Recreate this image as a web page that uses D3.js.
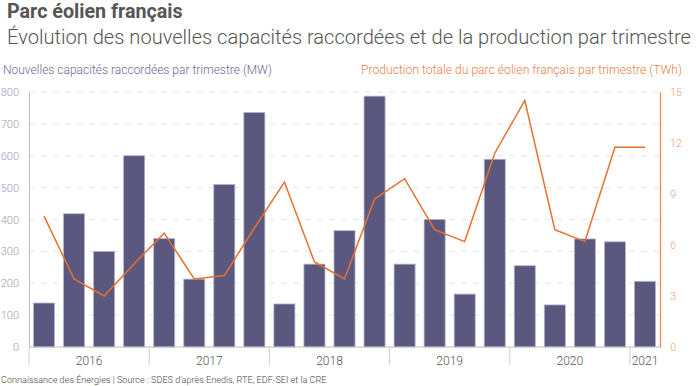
<!DOCTYPE html>
<html><head><meta charset="utf-8">
<script src="https://cdn.jsdelivr.net/npm/d3@7/dist/d3.min.js"></script>
<style>
body{margin:0;background:#fff;}
svg{display:block;font-family:Roboto,"Noto Sans",sans-serif;}
</style></head>
<body><svg id="c" width="700" height="386"></svg>
<script>
const quarters = ["2016T1","2016T2","2016T3","2016T4","2017T1","2017T2","2017T3","2017T4","2018T1","2018T2","2018T3","2018T4","2019T1","2019T2","2019T3","2019T4","2020T1","2020T2","2020T3","2020T4","2021T1"];
const capacity = [138,418,300,600,340,213,510,736,135,260,365,787,260,400,166,589,255,132,339,330,206];
const production = [7.7,4.0,3.0,4.9,6.7,4.0,4.2,7.0,9.7,5.0,4.0,8.7,9.9,6.9,6.2,11.4,14.5,6.9,6.2,11.75,11.75];
const years = ["2016","2017","2018","2019","2020","2021"];
const leftTicks = [0,100,200,300,400,500,600,700,800];
const rightTicks = [0,3,6,9,12,15];

const svg = d3.select("#c");
const m = {l:29, r:40, t:92, b:39};
const W = 700, H = 386;
const x = d3.scaleBand().domain(quarters).range([m.l, W-m.r]).paddingInner(0.3).paddingOuter(0.15);
const yL = d3.scaleLinear().domain([0,800]).range([H-m.b, m.t]);
const yR = d3.scaleLinear().domain([0,15]).range([H-m.b, m.t]);

// titles
svg.append("text").attr("x",7).attr("y",18).attr("font-size",19.7).attr("font-weight",700).attr("fill","#555").text("Parc éolien français");
svg.append("text").attr("x",7).attr("y",44).attr("font-size",20.1).attr("font-weight",300).attr("fill","#555").text("Évolution des nouvelles capacités raccordées et de la production par trimestre");
svg.append("text").attr("x",3).attr("y",74).attr("font-size",12).attr("font-weight",300).attr("fill","#6d6a92").text("Nouvelles capacités raccordées par trimestre (MW)");
svg.append("text").attr("x",682).attr("y",74).attr("text-anchor","end").attr("font-size",12.15).attr("font-weight",300).attr("fill","#ec7f45").text("Production totale du parc éolien français par trimestre (TWh)");

// grid
svg.append("g").selectAll("line").data(leftTicks.filter(d=>d>0)).join("line")
  .attr("x1",m.l).attr("x2",W-m.r).attr("y1",d=>yL(d)).attr("y2",d=>yL(d))
  .attr("stroke","#e6e6e6").attr("stroke-dasharray","6,6");

// left axis
const gL = svg.append("g").attr("transform",`translate(${m.l},0)`)
  .call(d3.axisLeft(yL).tickValues(leftTicks).tickSize(0).tickPadding(10));
gL.select(".domain").attr("stroke","#bdbdbd").attr("stroke-width",1);
gL.selectAll("text").attr("fill","#9d9bb4").attr("font-size",11).attr("font-weight",300).attr("font-family","Roboto");

// right axis
const gR = svg.append("g").attr("transform",`translate(${W-m.r},0)`)
  .call(d3.axisRight(yR).tickValues(rightTicks).tickSize(0).tickPadding(10));
gR.select(".domain").attr("stroke","#ef8a4f").attr("stroke-width",1.3);
gR.selectAll("text").attr("fill","#f1a077").attr("font-size",11).attr("font-weight",300).attr("font-family","Roboto");

// bars
svg.append("g").selectAll("rect").data(quarters).join("rect")
  .attr("x",d=>x(d)).attr("width",x.bandwidth())
  .attr("y",(d,i)=>yL(capacity[i])).attr("height",(d,i)=>yL(0)-yL(capacity[i]))
  .attr("fill","#5b5880").attr("stroke","#b6b4cb").attr("stroke-width",0.8);

// baseline
svg.append("line").attr("x1",m.l).attr("x2",W-m.r).attr("y1",yL(0)).attr("y2",yL(0)).attr("stroke","#bdbdbd");

// year separators and labels
const yearIdx = years.map(y=>quarters.map((q,i)=>q.startsWith(y)?i:-1).filter(i=>i>=0));
const step = x.step();
const x0 = m.l;
const seps = yearIdx.map(ix=>x0 + ix[0]*step);
svg.append("g").selectAll("line").data(seps).join("line")
  .attr("x1",d=>d).attr("x2",d=>d).attr("y1",yL(0)).attr("y2",yL(0)+18).attr("stroke","#d0d0d0");
svg.append("g").selectAll("text").data(years).join("text")
  .attr("x",(d,i)=>x0 + (yearIdx[i][0] + yearIdx[i].length/2)*step)
  .attr("y",yL(0)+18).attr("text-anchor","middle").attr("font-size",12).attr("font-weight",300).attr("fill","#555").text(d=>d);

// line
const line = d3.line().x((d,i)=>x(quarters[i])+x.bandwidth()/2).y(d=>yR(d));
svg.append("path").datum(production).attr("d",line).attr("fill","none").attr("stroke","#e8702f").attr("stroke-width",1.5);

// source
svg.append("text").attr("x",1).attr("y",383).attr("font-size",9.1).attr("font-weight",300).attr("fill","#444").text("Connaissance des Énergies | Source : SDES d'après Enedis, RTE, EDF-SEI et la CRE");
</script></body></html>
